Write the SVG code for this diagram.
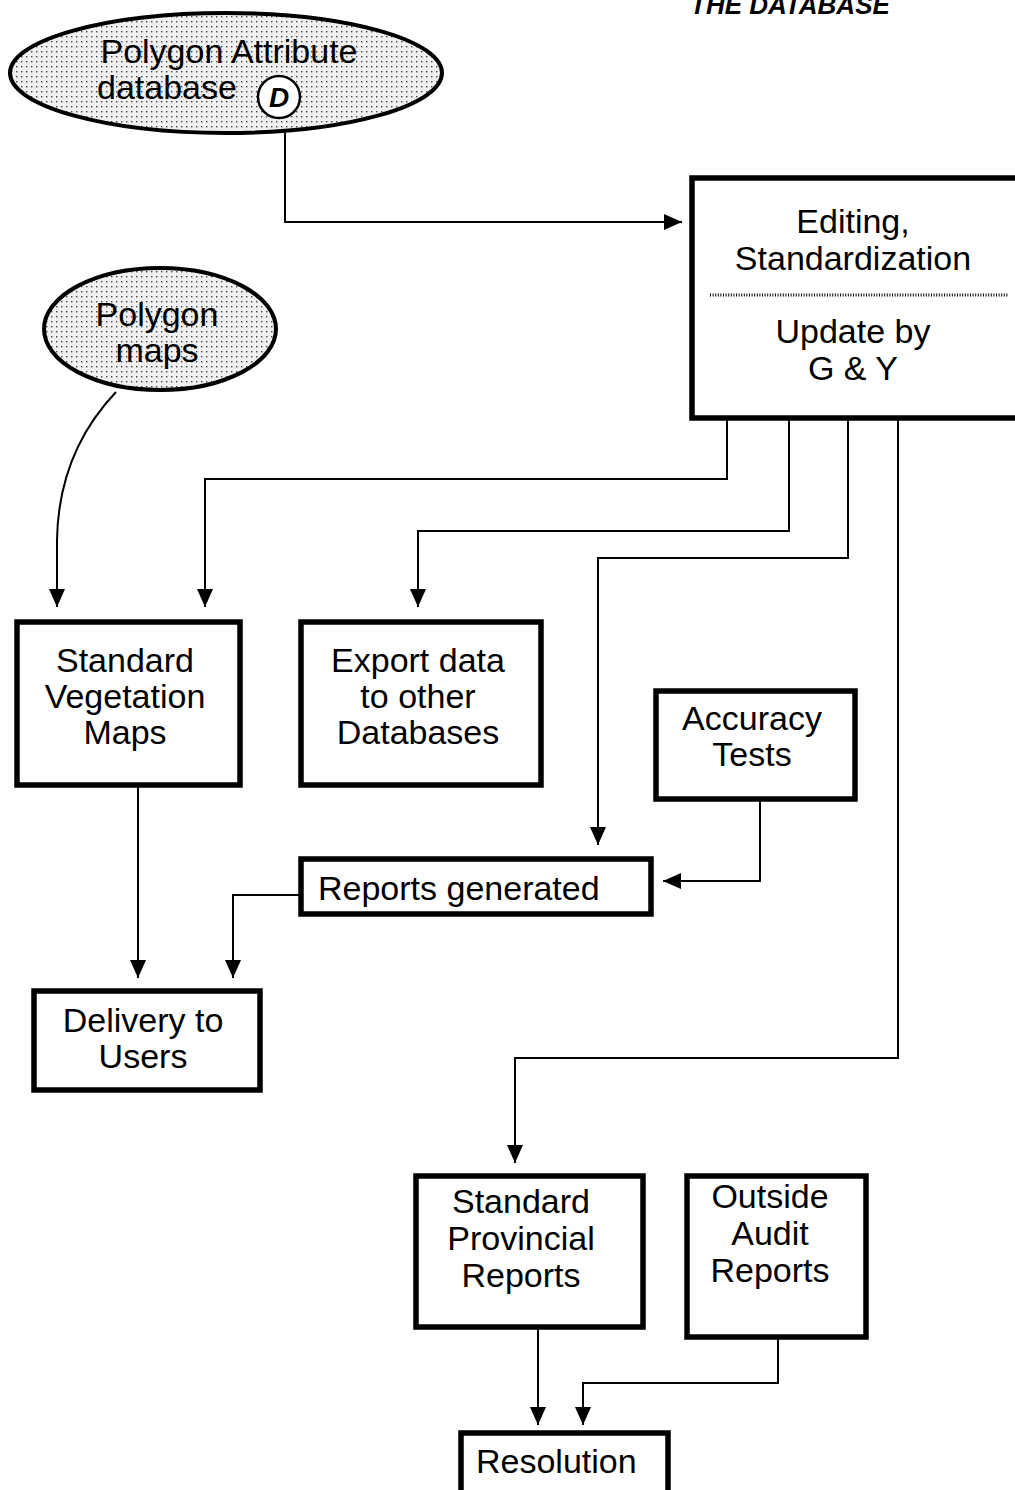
<svg xmlns="http://www.w3.org/2000/svg" width="1015" height="1490" viewBox="0 0 1015 1490">
<style>
  text { font-family: "Liberation Sans", Arial, Helvetica, sans-serif; font-size: 34px; fill: #000; }
  .c { text-anchor: middle; }
  .box { fill: #fff; stroke: #000; stroke-width: 5.5; }
  .ell { fill: url(#dots); stroke: #000; stroke-width: 4; }
  .conn { fill: none; stroke: #000; stroke-width: 2; }
  .title { font-weight: bold; font-style: italic; font-size: 26px; }
</style>
<defs>
  <pattern id="dots" width="5" height="5" patternUnits="userSpaceOnUse">
    <rect width="5" height="5" fill="#f0f0f0"/>
    <rect x="1" y="1" width="1.4" height="1.4" fill="#444"/>
  </pattern>
  <marker id="arr" viewBox="0 0 18 16" refX="18" refY="8" markerWidth="18" markerHeight="16" markerUnits="userSpaceOnUse" orient="auto">
    <path d="M0,0 L18,8 L0,16 Z" fill="#000"/>
  </marker>
</defs>

<text class="title" x="690" y="14">THE DATABASE</text>

<g id="connectors">
  <path class="conn" d="M285,133 V222 H682" marker-end="url(#arr)"/>
  <path class="conn" d="M727,418 V479 H205 V607" marker-end="url(#arr)"/>
  <path class="conn" d="M789,418 V531 H418 V607" marker-end="url(#arr)"/>
  <path class="conn" d="M848,418 V558 H598 V845" marker-end="url(#arr)"/>
  <path class="conn" d="M898,418 V1058 H515 V1163" marker-end="url(#arr)"/>
  <path class="conn" d="M116,392 C80,430 58,480 57,540 V607" marker-end="url(#arr)"/>
  <path class="conn" d="M138,785 V978" marker-end="url(#arr)"/>
  <path class="conn" d="M300,895 H233 V978" marker-end="url(#arr)"/>
  <path class="conn" d="M760,800 V881 H663" marker-end="url(#arr)"/>
  <path class="conn" d="M538,1327 V1425" marker-end="url(#arr)"/>
  <path class="conn" d="M778,1337 V1383 H583 V1425" marker-end="url(#arr)"/>
</g>

<g id="polygon-attribute-db">
  <ellipse class="ell" cx="226" cy="73" rx="216" ry="60"/>
  <text class="c" x="229" y="63">Polygon Attribute</text>
  <text x="97" y="99">database</text>
  <circle cx="279" cy="97" r="21" fill="#fff" stroke="#000" stroke-width="2.5"/>
  <text x="279" y="107" class="c" style="font-weight:bold;font-style:italic;font-size:28px">D</text>
</g>

<g id="polygon-maps">
  <ellipse class="ell" cx="160" cy="329" rx="116" ry="61"/>
  <text class="c" x="157" y="326">Polygon</text>
  <text class="c" x="157" y="362">maps</text>
</g>

<g id="editing">
  <rect class="box" x="692" y="178" width="330" height="240"/>
  <text class="c" x="853" y="233">Editing,</text>
  <text class="c" x="853" y="270">Standardization</text>
  <line x1="710" y1="295" x2="1008" y2="295" stroke="#000" stroke-width="3" stroke-dasharray="1 1.6"/>
  <text class="c" x="853" y="343">Update by</text>
  <text class="c" x="853" y="380">G &amp; Y</text>
</g>

<g id="standard-vegetation-maps">
  <rect class="box" x="17" y="622" width="223" height="163"/>
  <text class="c" x="125" y="672">Standard</text>
  <text class="c" x="125" y="708">Vegetation</text>
  <text class="c" x="125" y="744">Maps</text>
</g>

<g id="export-data">
  <rect class="box" x="301" y="622" width="240" height="163"/>
  <text class="c" x="418" y="672">Export data</text>
  <text class="c" x="418" y="708">to other</text>
  <text class="c" x="418" y="744">Databases</text>
</g>

<g id="accuracy-tests">
  <rect class="box" x="656" y="691" width="199" height="108"/>
  <text class="c" x="752" y="730">Accuracy</text>
  <text class="c" x="752" y="766">Tests</text>
</g>

<g id="reports-generated">
  <rect class="box" x="301" y="859" width="350" height="55"/>
  <text x="318" y="900">Reports generated</text>
</g>

<g id="delivery-to-users">
  <rect class="box" x="34" y="991" width="226" height="99"/>
  <text class="c" x="143" y="1032">Delivery to</text>
  <text class="c" x="143" y="1068">Users</text>
</g>

<g id="standard-provincial-reports">
  <rect class="box" x="416" y="1176" width="227" height="151"/>
  <text class="c" x="521" y="1213">Standard</text>
  <text class="c" x="521" y="1250">Provincial</text>
  <text class="c" x="521" y="1287">Reports</text>
</g>

<g id="outside-audit-reports">
  <rect class="box" x="687" y="1176" width="179" height="161"/>
  <text class="c" x="770" y="1208">Outside</text>
  <text class="c" x="770" y="1245">Audit</text>
  <text class="c" x="770" y="1282">Reports</text>
</g>

<g id="resolution">
  <rect class="box" x="461" y="1433" width="207" height="70"/>
  <text x="476" y="1473">Resolution</text>
</g>
</svg>
